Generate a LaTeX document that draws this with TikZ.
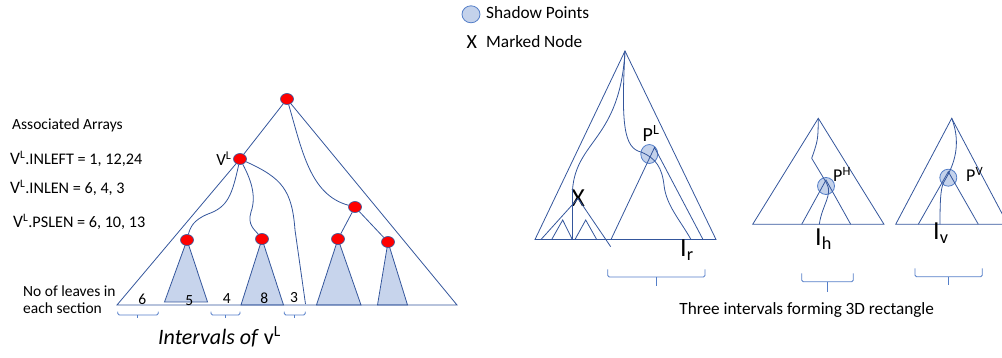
\documentclass[tikz,border=0pt]{standalone}
\usepackage{fontspec}
\setmainfont{Carlito}
\usepackage{xcolor}
\usetikzlibrary{calc,positioning,shapes.geometric}
\definecolor{treeBlue}{RGB}{52,86,156}
\definecolor{braceBlue}{RGB}{84,126,200}
\definecolor{subFill}{RGB}{199,212,236}
\definecolor{shadowFill}{RGB}{196,210,235}
\definecolor{nodeRed}{RGB}{255,0,0}

\begin{document}
\begin{tikzpicture}[x=1pt,y=-1pt,
  font=\fontsize{15.5}{17}\selectfont,
  tree/.style={draw=treeBlue, line width=0.8pt},
  subtri/.style={tree, fill=subFill},
  redpt/.style={ellipse, draw=treeBlue, fill=nodeRed, line width=0.6pt,
    minimum width=13pt, minimum height=11pt, inner sep=0pt},
  shadowpt/.style={ellipse, draw=braceBlue, fill=shadowFill, line width=0.8pt,
    minimum width=17pt, minimum height=17pt, inner sep=0pt},
  ivbrace/.style={draw=braceBlue, line width=0.8pt, rounded corners=1.5pt},
  txt/.style={inner sep=0pt, anchor=west},
  lbl/.style={inner sep=0pt, anchor=base west}]
\useasboundingbox (0,0) rectangle (1002,358);

% left tree
\coordinate (baseL) at (117,305);
\coordinate (baseR) at (457,305);
\coordinate (cut3) at (305.5,304);
\filldraw[subtri] (187,240) -- (164.5,302) -- (207.5,302) -- cycle;
\filldraw[subtri] (262,239) -- (241,305) -- (283.5,305) -- cycle;
\filldraw[subtri] (338,239) -- (316.5,305) -- (361,305) -- cycle;
\filldraw[subtri] (388,242) -- (377.5,305) -- (407.5,305) -- cycle;

\node[redpt] (root) at (287,99) {};
\node[redpt] (vl) at (240,159) {};
\node[redpt] (a1) at (187,240) {};
\node[redpt] (a2) at (262,239) {};
\node[redpt] (b0) at (355,207) {};
\node[redpt] (b1) at (338,239) {};
\node[redpt] (b2) at (388,242) {};

\draw[tree] (root) -- (vl) -- (baseL) -- (baseR) -- (root);
\draw[tree] (root) .. controls (302,150) and (310,195) .. (b0);
\draw[tree] (b0) -- (b1);
\draw[tree] (b0) -- (b2);
\draw[tree] (vl) .. controls (232,195) and (228,207) .. (208,214)
  .. controls (193,220) and (190,228) .. (a1);
\draw[tree] (vl) .. controls (250,178) and (257,195) .. (251,212)
  .. controls (247,225) and (255,230) .. (a2);
\draw[tree] (vl) .. controls (282,178) and (292,190) .. (295,230) -- (cut3);

\node[inner sep=0pt, left=1.5pt of vl, font=\fontsize{17}{18}\selectfont] (vlname) {V\textsuperscript{L}};

\node[txt] (arrays) at (12,125) {Associated Arrays};
\node[txt, font=\fontsize{16.2}{17}\selectfont] (inleft) at (10,159) {{\fontsize{17.5}{18}\selectfont V}\textsuperscript{L}.INLEFT = 1, 12,24};
\node[txt, font=\fontsize{16.2}{17}\selectfont] (inlen) at (10,188) {{\fontsize{17.5}{18}\selectfont V}\textsuperscript{L}.INLEN = 6, 4, 3};
\node[txt, font=\fontsize{16.2}{17}\selectfont] (pslen) at (13,222) {{\fontsize{17.5}{18}\selectfont V}\textsuperscript{L}.PSLEN = 6, 10, 13};
\node[txt, align=left] (leaves) at (23,300) {No of leaves in\\each section};

\node (c6) at (142.3,299.3) {6};
\node (c5) at (189.3,301) {5};
\node (c4) at (226.7,298.3) {4};
\node (c8) at (264.3,298.3) {8};
\node (c3) at (294,297.3) {3};

\draw[ivbrace] (117.7,311.7) |- (158.3,315) -- (158.3,311.7);
\draw[ivbrace] (137.7,315) -- (137.7,318);
\draw[ivbrace] (211,311.7) |- (240,315) -- (240,311.7);
\draw[ivbrace] (225.3,315) -- (225.3,318);
\draw[ivbrace] (284.3,311.7) |- (305.3,315) -- (305.3,311.7);
\draw[ivbrace] (294.7,315) -- (294.7,318);

\node (ivl) at (219.5,337) {\fontsize{22}{24}\selectfont\textit{Intervals of} v\textsuperscript{L}};

% legend
\node[shadowpt, minimum width=18pt] (lgdot) at (471,14.3) {};
\node[txt, font=\fontsize{17.3}{18}\selectfont] (lgdottxt) at (486,13) {Shadow Points};
\node[font=\fontsize{20}{20}\selectfont, inner sep=0pt] (lgx) at (471.7,41.7) {X};
\node[txt, font=\fontsize{17.3}{18}\selectfont] (lgxtxt) at (486,41.7) {Marked Node};

% big tree with P^L
\coordinate (t1top) at (625,51);
\coordinate (t1l) at (535,239.5);
\coordinate (t1r) at (716,239.5);
\node[shadowpt, minimum height=19pt] (pl) at (649.3,154) {};
\node[font=\fontsize{26}{28}\selectfont, inner sep=0pt] (mx) at (578,198.5) {X};
\draw[tree] (t1top) -- (t1l) -- (t1r) -- cycle;
\draw[tree] (541,239.5) -- (mx.center) -- (610.7,246.7);
\draw[tree] (551.7,239.5) -- (562.7,220) -- (572.3,239.5);
\draw[tree] (575,239.5) -- (585.7,220) -- (596.7,239.5);
\draw[tree] (t1top) .. controls (620,140) and (576,140) .. (572.5,190) -- (572.5,239.5);
\draw[tree] (611,239.5) -- (654.5,147.5) -- (703,239.5);
\draw[tree] (t1top) .. controls (621,125) and (624,148) .. (641,152)
  .. controls (656,158) and (662,168) .. (664,185)
  .. controls (666,205) and (680,220) .. (691,239.5);
\node[lbl, font=\fontsize{20}{22}\selectfont] (plname) at (642.5,141.7) {P\textsuperscript{L}};
\node[lbl, font=\fontsize{26}{28}\selectfont] (irname) at (680,256.7) {I\textsubscript{r}};

% middle tree with P^H
\coordinate (t2top) at (818.3,118.3);
\coordinate (t2l) at (752.7,224.3);
\coordinate (t2r) at (884,224.3);
\node[shadowpt] (ph) at (826,186) {};
\draw[tree] (t2top) -- (t2l) -- (t2r) -- cycle;
\draw[tree] (801.7,224.3) -- (826,180) -- (850.7,224.3);
\draw[tree] (t2top) .. controls (818,140) .. (811.7,158.3) -- (826.7,183.3)
  .. controls (833,195) and (822,205) .. (819.3,224.3);
\node[lbl, font=\fontsize{18}{20}\selectfont] (phname) at (833,181.7) {P\textsuperscript{H}};
\node[lbl, font=\fontsize{26}{28}\selectfont] (ihname) at (815,245.7) {I\textsubscript{h}};

% right tree with P^V
\coordinate (t3top) at (951.7,118.3);
\coordinate (t3l) at (895.7,224.3);
\coordinate (t3r) at (1007.7,224.3);
\node[shadowpt] (pv) at (948.3,177.7) {};
\draw[tree] (t3top) -- (t3l) -- (t3r) -- cycle;
\draw[tree] (918.3,224.3) -- (948.3,171.7) -- (978.3,224.3);
\draw[tree] (t3top) .. controls (960,140) and (957,160) .. (945,180)
  .. controls (941,186) and (940,195) .. (940,224.3);
\node[lbl, font=\fontsize{18}{20}\selectfont] (pvname) at (966,181.7) {P\textsuperscript{V}};
\node[lbl, font=\fontsize{26}{28}\selectfont] (ivname) at (933,240) {I\textsubscript{v}};

% interval braces
\draw[ivbrace] (607.7,269.5) |- (705,277) -- (705,269.5);
\draw[ivbrace] (656,277) -- (656,286);
\draw[ivbrace] (801.7,273.3) |- (853.3,281.7) -- (853.3,273.3);
\draw[ivbrace] (827.3,281.7) -- (827.3,291.7);
\draw[ivbrace] (915,268.3) |- (982.3,276.7) -- (982.3,268.3);
\draw[ivbrace] (948.3,276.7) -- (948.3,285);

\node (three) at (806.7,310) {\fontsize{17.2}{18}\selectfont Three intervals forming 3D rectangle};
\end{tikzpicture}
\end{document}
